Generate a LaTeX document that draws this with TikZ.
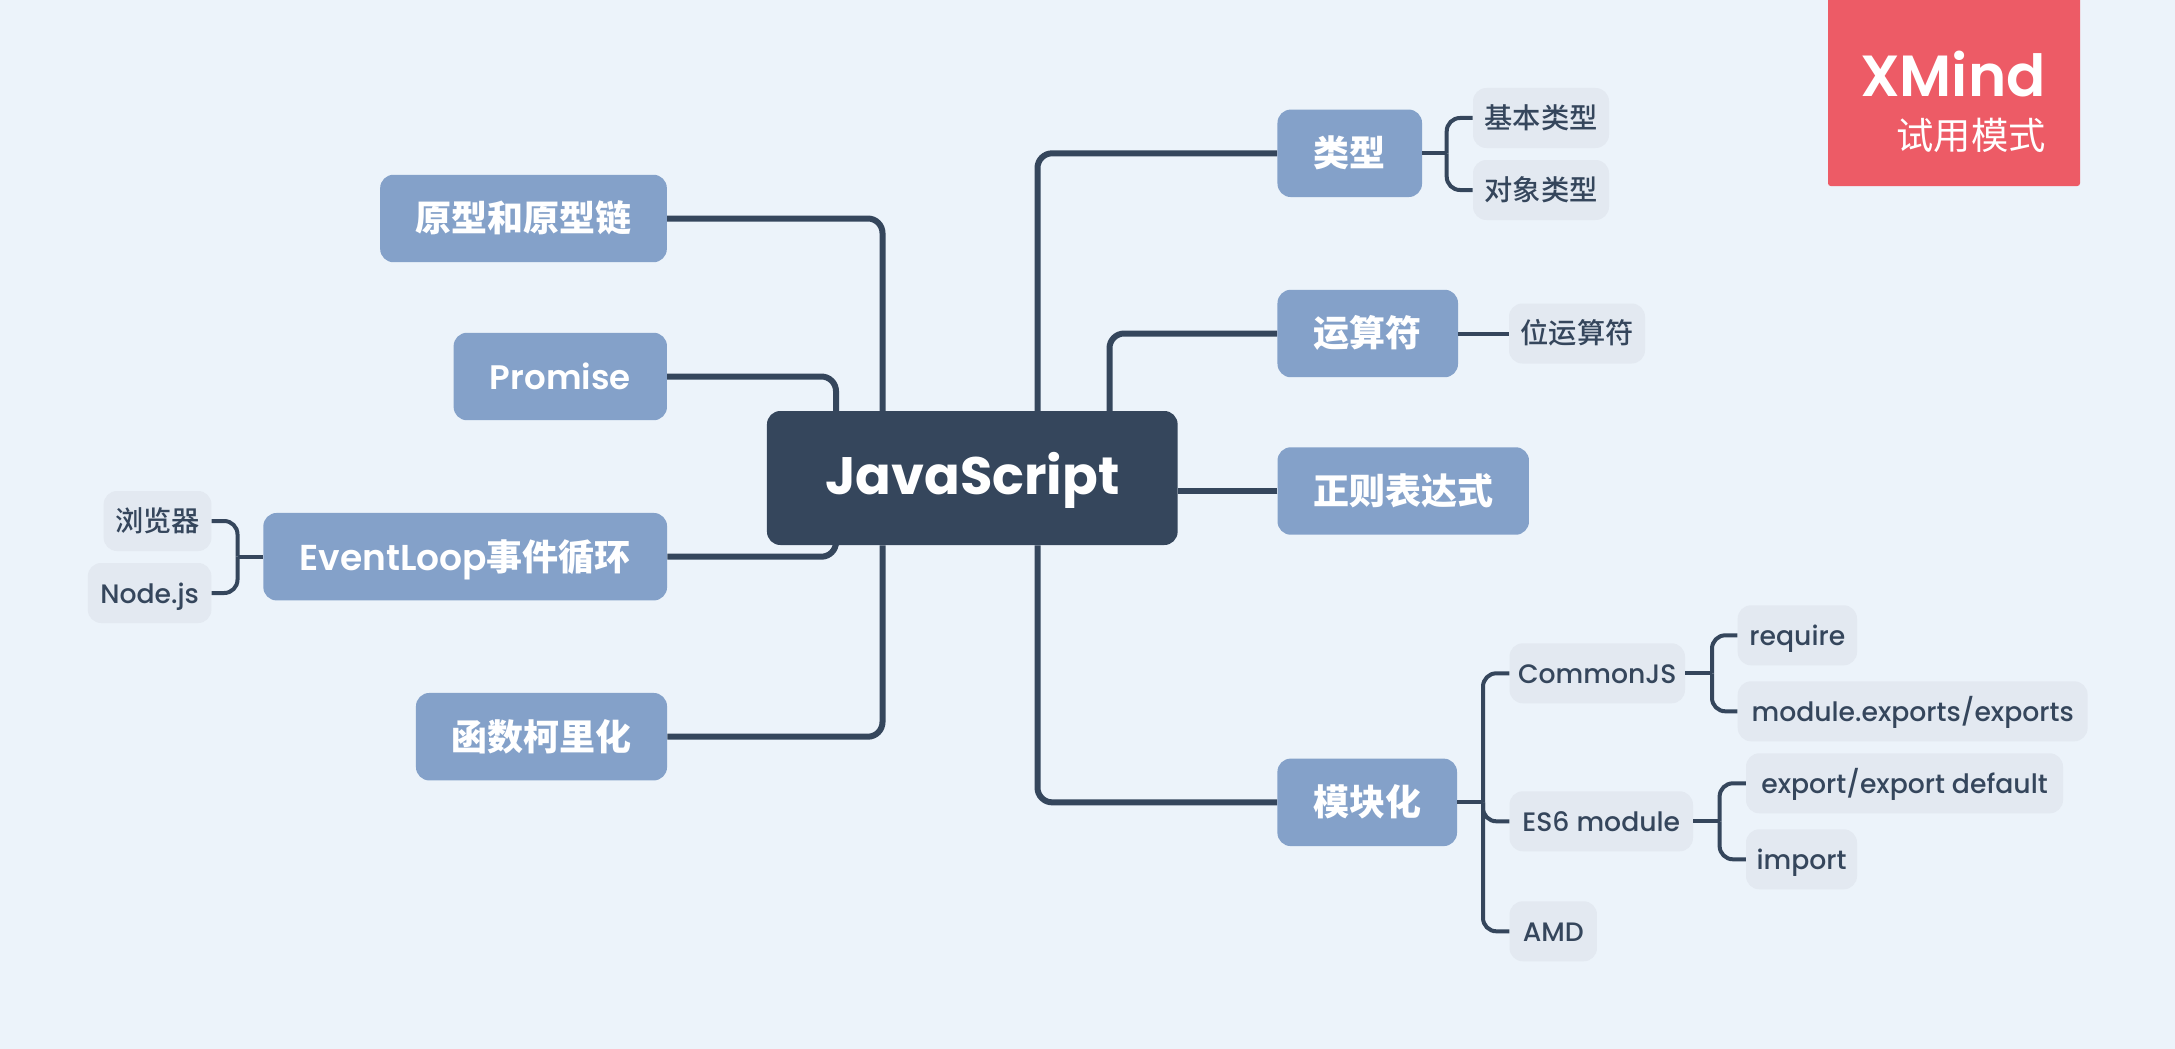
\documentclass[tikz,border=0pt]{standalone}
\usepackage{fontspec}
\setmainfont{Poppins Medium}[BoldFont={Poppins SemiBold}]
\newfontfamily\poppinsbold{Poppins Bold}
\newfontfamily\cjk{Noto Sans CJK SC}
\newfontfamily\cjkm{Noto Sans CJK SC Medium}
\newcommand\topiccjk[1]{{\fontsize{27}{27}\selectfont\cjk\bfseries #1}}
\newcommand\leafcjk[1]{{\fontsize{21.2}{21}\selectfont\cjkm #1}}
\definecolor{bgc}{HTML}{ECF3FA}
\definecolor{dark}{HTML}{35465C}
\definecolor{topicc}{HTML}{84A1C9}
\definecolor{leafc}{HTML}{E3E9F1}
\definecolor{redc}{HTML}{ED5B66}
\tikzset{
  rootbox/.style={fill=dark,text=white,rounded corners=10pt,inner sep=0pt,minimum height=100.5pt,font=\fontsize{39.5}{42}\selectfont\poppinsbold,text height=34pt,text depth=9pt},
  topicbox/.style={fill=topicc,text=white,rounded corners=10pt,inner sep=0pt,minimum height=65.6pt,font=\fontsize{25.5}{27}\selectfont\bfseries,text height=23pt,text depth=3pt},
  leafbox/.style={fill=leafc,text=dark,rounded corners=10pt,inner sep=0pt,minimum height=45pt,font=\fontsize{20}{21}\selectfont,text height=18pt,text depth=3pt},
  mainline/.style={draw=dark,line width=4.5pt,rounded corners=11pt},
  subline/.style={draw=dark,line width=3pt,rounded corners=10pt},
}
\begin{document}
\begin{tikzpicture}[x=0.75pt,y=-0.75pt]
\path[use as bounding box,fill=bgc] (0,0) rectangle (2175,1049);
% badge
\fill[redc,rounded corners=2pt] (1828,-10) rectangle (2080,186);
\node[anchor=base east,inner sep=0pt,text=white,font=\fontsize{43.5}{44}\selectfont\bfseries] (xm) at (2046,97) {XMind};
\node[anchor=base east,inner sep=0pt,text=white,font=\fontsize{28}{28}\selectfont\cjk] (tm) at (2046,149) {试用模式};
% nodes
\node[rootbox,minimum width=308pt] (root) at (972.3,478) {JavaScript};
\node[topicbox,minimum width=215pt] (proto) at (523.5,218.5) {\topiccjk{原型和原型链}};
\node[topicbox,minimum width=160pt] (promise) at (560.3,376.5) {Promise};
\node[topicbox,minimum width=302.8pt] (loop) at (465.2,556.7) {{\fontsize{27}{27}\selectfont EventLoop}\topiccjk{事件循环}};
\node[topicbox,minimum width=188.3pt] (curry) at (541.5,736.7) {\topiccjk{函数柯里化}};
\node[topicbox,minimum width=108.4pt] (type) at (1349.75,153.3) {\topiccjk{类型}};
\node[topicbox,minimum width=135.4pt] (op) at (1367.75,333.5) {\topiccjk{运算符}};
\node[topicbox,minimum width=188.6pt] (regex) at (1403.25,491) {\topiccjk{正则表达式}};
\node[topicbox,minimum width=134.7pt] (mod) at (1367.2,802.35) {\topiccjk{模块化}};
\node[leafbox,minimum width=102pt] (basic) at (1541,118) {\leafcjk{基本类型}};
\node[leafbox,minimum width=102pt] (obj) at (1541,190) {\leafcjk{对象类型}};
\node[leafbox,minimum width=102pt] (bit) at (1577,333.5) {\leafcjk{位运算符}};
\node[leafbox,minimum width=80.8pt] (browser) at (157.55,521) {\leafcjk{浏览器}};
\node[leafbox,minimum width=92.7pt] (nodejs) at (149.6,593) {Node.js};
\node[leafbox,minimum width=131.6pt] (cjs) at (1597.25,673.3) {CommonJS};
\node[leafbox,minimum width=89.5pt] (req) at (1797.35,635.3) {require};
\node[leafbox,minimum width=262.4pt] (exps) at (1912.65,711.3) {module.exports/exports};
\node[leafbox,minimum width=137.6pt] (es) at (1601.25,821.3) {ES6 module};
\node[leafbox,minimum width=237.75pt] (expd) at (1904.5,783.3) {export/export default};
\node[leafbox,minimum width=83.25pt] (imp) at (1801.5,859.3) {import};
\node[leafbox,minimum width=65.6pt] (amd) at (1553.25,931.3) {AMD};
% junctions on the root
\coordinate (rtA) at (836,410.75);
\coordinate (rtB) at (882.5,410.75);
\coordinate (rtC) at (1037.5,410.75);
\coordinate (rtD) at (1109.5,410.75);
\coordinate (rbA) at (836,545.25);
\coordinate (rbB) at (882.5,545.25);
\coordinate (rbC) at (1037.5,545.25);
% sub junctions
\coordinate (jType) at (1446.7,153.3);
\coordinate (jLoop) at (237.5,556.7);
\coordinate (jMod) at (1483,802.35);
\coordinate (jCjs) at (1712,673.3);
\coordinate (jEs) at (1719.6,821.3);
% main connectors
\draw[mainline] (proto.east) -| (rtB);
\draw[mainline] (promise.east) -| (rtA);
\draw[mainline] (loop.east) -| (rbA);
\draw[mainline] (curry.east) -| (rbB);
\draw[mainline] (type.west) -| (rtC);
\draw[mainline] (op.west) -| (rtD);
\draw[mainline] (regex.west) -- (regex.west -| root.east);
\draw[mainline] (mod.west) -| (rbC);
% sub connectors
\draw[subline] (type.east) -- (jType);
\draw[subline] (basic.west) -| (jType);
\draw[subline] (obj.west) -| (jType);
\draw[subline] (op.east) -- (bit.west);
\draw[subline] (loop.west) -- (jLoop);
\draw[subline] (browser.east) -| (jLoop);
\draw[subline] (nodejs.east) -| (jLoop);
\draw[subline] (mod.east) -- (jMod);
\draw[subline] (cjs.west) -| (jMod);
\draw[subline] (es.west) -| (jMod);
\draw[subline] (amd.west) -| (jMod);
\draw[subline] (cjs.east) -- (jCjs);
\draw[subline] (req.west) -| (jCjs);
\draw[subline] (exps.west) -| (jCjs);
\draw[subline] (es.east) -- (jEs);
\draw[subline] (expd.west) -| (jEs);
\draw[subline] (imp.west) -| (jEs);
\end{tikzpicture}
\end{document}
